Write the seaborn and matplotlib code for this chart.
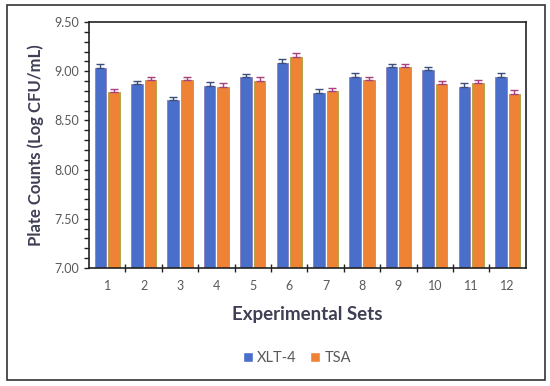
import numpy as np
import pandas as pd
import matplotlib
matplotlib.use("Agg")
import matplotlib.pyplot as plt
from matplotlib.patches import Rectangle
from matplotlib.ticker import MultipleLocator
import seaborn as sns

# Data
sets = [str(i) for i in range(1, 13)]
xlt4 = [9.03, 8.87, 8.71, 8.85, 8.94, 9.08, 8.78, 8.94, 9.04, 9.01, 8.84, 8.94]
xlt4_err = [0.04, 0.03, 0.03, 0.04, 0.03, 0.04, 0.04, 0.04, 0.03, 0.03, 0.04, 0.04]
tsa = [8.79, 8.91, 8.91, 8.84, 8.90, 9.14, 8.80, 8.91, 9.04, 8.87, 8.88, 8.77]
tsa_err = [0.03, 0.03, 0.03, 0.04, 0.04, 0.04, 0.03, 0.03, 0.03, 0.03, 0.03, 0.04]
media = ["XLT-4", "TSA"]

df = pd.DataFrame({
    "Set": sets * 2,
    "Medium": [media[0]] * 12 + [media[1]] * 12,
    "Count": xlt4 + tsa,
})

sns.set_style("white")
plt.rcParams["font.family"] = ["Lato", "DejaVu Sans"]

fig = plt.figure(figsize=(5.5, 3.86), dpi=100)
ax = fig.add_axes([0.162, 0.306, 0.794, 0.637])

palette = {"XLT-4": "#4A6FCB", "TSA": "#EE8336"}
sns.barplot(data=df, x="Set", y="Count", hue="Medium", order=sets,
            hue_order=media, palette=palette, width=0.75, gap=0.15,
            errorbar=None, ax=ax, legend=True, saturation=1)

# error bars on top of each bar
err_colors = ["#3C4E7A", "#A8407E"]
edge_colors = ["#8E7FB8", "#A9A23E"]
for cont, errs, ec, edc in zip(ax.containers, [xlt4_err, tsa_err], err_colors, edge_colors):
    xs = [p.get_x() + p.get_width() / 2 for p in cont.patches]
    ys = [p.get_height() for p in cont.patches]
    ax.errorbar(xs, ys, yerr=[np.zeros(len(errs)), errs], fmt="none",
                ecolor=ec, elinewidth=1.0, capsize=2.8, capthick=1.0)
    for p in cont.patches:
        p.set_edgecolor(edc)
        p.set_linewidth(0.6)

ax.set_ylim(7.0, 9.5)
ax.yaxis.set_major_locator(MultipleLocator(0.5))
ax.yaxis.set_minor_locator(MultipleLocator(0.1))
ax.yaxis.set_major_formatter(matplotlib.ticker.FormatStrFormatter("%.2f"))
ax.tick_params(axis="y", which="both", direction="out", length=3.5, width=1.0,
               colors="#222222", labelcolor="#595959", labelsize=9, left=True)
ax.tick_params(axis="x", which="major", length=0, labelcolor="#595959",
               labelsize=9, pad=9)
ax.set_xticks(np.arange(0.5, 11.5, 1.0), minor=True)
ax.tick_params(axis="x", which="minor", direction="inout", length=6,
               width=1.0, color="#222222", bottom=True)
ax.set_xlim(-0.5, 11.5)

for s in ax.spines.values():
    s.set_visible(True)
    s.set_color("#222222")
    s.set_linewidth(1.2)

ax.set_xlabel("Experimental Sets", fontsize=13.5, fontweight="bold",
              color="#3F3F55", labelpad=10)
ax.set_ylabel("Plate Counts (Log CFU/mL)", fontsize=12, fontweight="bold",
              color="#3F3F55", labelpad=8)

leg = ax.legend(loc="center", bbox_to_anchor=(0.476, -0.366), ncol=2,
                frameon=False, fontsize=10.5, handlelength=0.7,
                handleheight=0.7, handletextpad=0.3, columnspacing=0.9)
for t in leg.get_texts():
    t.set_color("#595959")

# outer frame around the whole chart
fig.patches.append(Rectangle((0.012, 0.016), 0.978, 0.97, transform=fig.transFigure,
                             fill=False, edgecolor="#333333", linewidth=1.2))

fig.savefig("out.png", dpi=100)
